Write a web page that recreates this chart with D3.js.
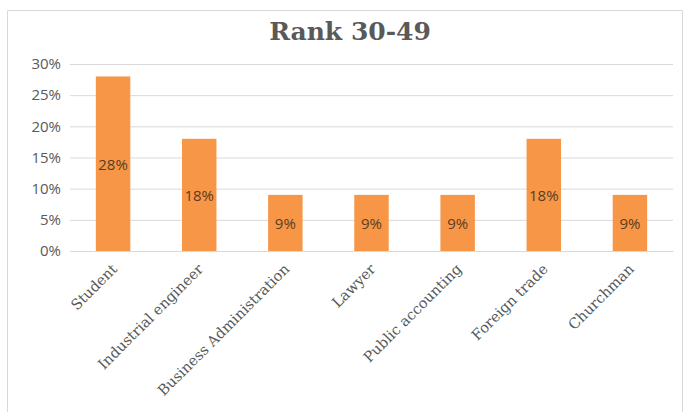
<!DOCTYPE html>
<html>
<head>
<meta charset="utf-8">
<script src="https://cdn.jsdelivr.net/npm/d3@7"></script>
<style>
  body { margin: 0; background: #fff; }
  svg { display: block; }
</style>
</head>
<body>
<svg id="chart" width="684" height="412"></svg>
<script>
const categories = ['Student', 'Industrial engineer', 'Business Administration', 'Lawyer', 'Public accounting', 'Foreign trade', 'Churchman']
const values = [0.28, 0.18, 0.09, 0.09, 0.09, 0.18, 0.09]
const yTicks = [0, 0.05, 0.10, 0.15, 0.20, 0.25, 0.30]
const title = 'Rank 30-49'

const width = 684
const height = 412
const margin = { top: 64, right: 11, bottom: 161, left: 70 }
const innerWidth = width - margin.left - margin.right
const innerHeight = height - margin.top - margin.bottom

const svg = d3.select('#chart')

// chart frame (top, left, right edges; bottom runs off the picture)
svg.append('path')
  .attr('d', `M7.5,${height} V10.5 H${width - 1.5} V${height}`)
  .attr('fill', 'none').attr('stroke', '#d9d9d9')

svg.append('text')
  .attr('x', 350).attr('y', 40)
  .attr('text-anchor', 'middle')
  .attr('font-family', 'DejaVu Serif')
  .attr('font-weight', 'bold')
  .attr('font-size', 25)
  .attr('fill', '#595959')
  .text(title)

const g = svg.append('g').attr('transform', `translate(${margin.left}, ${margin.top})`)

const x = d3.scaleBand().domain(categories).range([0, innerWidth]).paddingInner(0.6).paddingOuter(0.3)
const y = d3.scaleLinear().domain([0, 0.3]).range([innerHeight, 0])

// gridlines + y labels
const yAxis = d3.axisLeft(y)
  .tickValues(yTicks)
  .tickSize(-innerWidth)
  .tickPadding(9)
  .tickFormat(d3.format('.0%'))

g.append('g').call(yAxis)
  .call(s => s.select('.domain').remove())
  .call(s => s.selectAll('.tick line').attr('stroke', '#d9d9d9'))
  .call(s => s.selectAll('.tick text')
    .attr('font-family', 'Open Sans')
    .attr('font-size', 15)
    .attr('fill', '#595959'))

g.selectAll('.bar')
  .data(values)
  .join('rect')
  .attr('class', 'bar')
  .attr('x', (d, i) => x(categories[i]))
  .attr('y', d => y(d))
  .attr('width', x.bandwidth())
  .attr('height', d => innerHeight - y(d))
  .attr('fill', '#f79646')

g.selectAll('.value')
  .data(values)
  .join('text')
  .attr('class', 'value')
  .attr('x', (d, i) => x(categories[i]) + x.bandwidth() / 2)
  .attr('y', d => (y(d) + innerHeight) / 2)
  .attr('dy', '0.4em')
  .attr('text-anchor', 'middle')
  .attr('font-family', 'Open Sans')
  .attr('font-size', 15)
  .attr('fill', '#5a3c22')
  .text(d => d3.format('.0%')(d))

// rotated category labels
const xAxis = d3.axisBottom(x).tickSize(0).tickPadding(0)
g.append('g')
  .attr('transform', `translate(0, ${innerHeight})`)
  .call(xAxis)
  .call(s => s.select('.domain').attr('stroke', '#d9d9d9'))
  .call(s => s.selectAll('.tick text')
    .attr('font-family', 'DejaVu Serif')
    .attr('font-size', 14.5)
    .attr('fill', '#595959')
    .attr('text-anchor', 'end')
    .attr('dy', null)
    .attr('transform', 'translate(5, 19) rotate(-45)'))
</script>
</body>
</html>
